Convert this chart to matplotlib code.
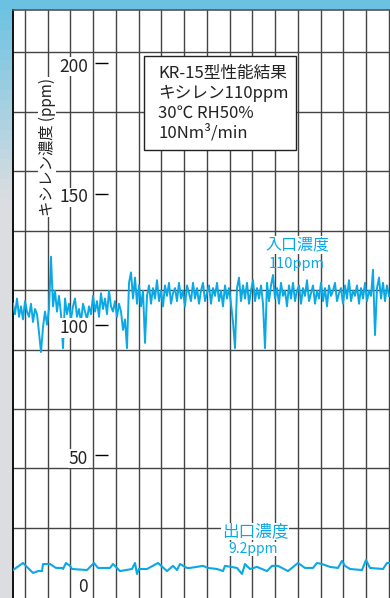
import numpy as np
import matplotlib
matplotlib.use("Agg")
from matplotlib import pyplot as plt
from matplotlib.patches import Rectangle

plt.rcParams['font.family'] = ['Noto Sans CJK JP', 'DejaVu Sans']

# 入口濃度 (ppm), one reading every time step
inlet = [108, 104, 110, 103, 107, 102, 109, 105, 103, 108, 101, 106, 104,
         97, 89.5, 99, 105, 100, 106,
         126,
         107, 113, 105, 111, 104,
         91,
         110, 104, 108, 102, 107, 110, 103, 106, 101, 108,
         105, 102, 107, 104, 111, 105, 109, 103, 112, 106,
         110, 104, 113, 107, 105, 109, 103, 108, 105,
         98, 102, 91,
         116, 120, 110, 118, 108, 115, 107, 113,
         93,
         111, 115, 108, 114, 110, 117, 109, 113, 107, 115,
         111, 116, 108, 112, 114, 109, 116, 110, 113, 107,
         115, 112, 109, 116, 110, 114, 108, 113, 116, 109,
         112, 115, 108, 114, 111, 116, 109, 113, 107, 115,
         110, 114, 108,
         101, 91,
         114, 118, 109, 115, 110, 116, 108, 113, 117, 109, 114, 110, 115, 108,
         91,
         116, 109, 115, 119, 110, 114, 108, 116, 111, 113,
         107, 115, 110, 116, 109, 113, 115, 108, 114, 111,
         117, 109, 112, 115, 108, 113, 110, 116, 109, 114,
         107, 115, 111, 113, 116, 109, 112, 114, 108, 115,
         110, 117, 109, 113, 111, 115, 108, 114, 110, 116,
         109, 113, 111,
         121, 96,
         114, 118, 110, 116, 109, 115, 111]

# 出口濃度 (ppm)
outlet_t = [0, 5, 10, 12.5, 14.5, 15, 18.5, 21.5, 24.5, 25, 26.5, 28.5, 29.5,
            37, 40.5, 42.5, 48.5, 50, 53.5, 59.5, 61, 62, 63, 67, 72.5, 77, 80,
            82, 83.5, 87, 88.5, 95, 97.5, 102, 105, 106, 112, 114.5, 116, 118.5,
            122, 127, 129.5, 132.5, 137.5, 142.5, 146, 150, 152, 154.5, 158.5,
            162.5, 164.5, 166, 168.5, 174.5, 176.5, 178.5, 185, 187, 188.5]
outlet = [6.1, 8.8, 5.0, 5.7, 5.7, 8.4, 8.4, 6.9, 6.9, 6.5, 8.8, 7.7, 6.5,
          6.1, 8.8, 6.9, 6.9, 8.4, 5.7, 6.5, 8.8, 4.6, 6.5, 6.5, 8.8, 5.7, 7.7,
          6.1, 8.4, 6.9, 6.9, 7.7, 6.9, 6.5, 5.7, 7.7, 6.9, 4.6, 8.4, 6.5,
          7.3, 5.7, 7.7, 7.7, 5.7, 8.8, 6.9, 6.9, 8.8, 8.4, 7.3,
          6.9, 9.6, 7.7, 6.5, 6.1, 9.9, 6.9, 6.5, 8.8, 8.8]

yticks = [50, 100, 150, 200]
tick_labels = ["0", "50", "100", "150", "200"]
info_lines = ["KR-15型性能結果", "キシレン110ppm", "30℃ RH50%", "10Nm³/min"]

blue = "#0aa9e6"

fig = plt.figure(figsize=(3.9, 5.98), dpi=100)

# photo-like background behind the chart paper
bg = fig.add_axes([0, 0, 1, 1])
top_col = np.array([0.42, 0.76, 0.89])
bot_col = np.array([0.86, 0.87, 0.88])
rows = np.linspace(0, 1, 60)[:, None]
grad = top_col + (bot_col - top_col) * np.clip(rows * 3.0, 0, 1)
img = np.repeat(grad[:, None, :], 2, axis=1)
bg.imshow(img, aspect='auto', extent=[0, 1, 0, 1])
bg.axis('off')

ax = fig.add_axes([13 / 390, 0, 1 - 13 / 390, 588 / 598])
ax.set_facecolor('white')
ax.set_xlim(0, 188.5)
ax.set_ylim(-4.6, 220.4)

# chart paper grid
for gx in np.arange(6, 189, 11.37):
    ax.axvline(gx, color='#444444', lw=1.0, zorder=1)
for gy in np.arange(22.2, 215, 22.76):
    ax.axhline(gy, color='#444444', lw=1.0, zorder=1)

ax.plot(np.arange(len(inlet)), inlet, color=blue, lw=1.4, zorder=3)
ax.plot(outlet_t, outlet, color=blue, lw=1.5, zorder=3)

# axis ticks drawn on the paper
ax.hlines(yticks, 41, 47.5, color='black', lw=1.0, zorder=4)
for v, lab in zip([1.0] + yticks, tick_labels):
    ax.text(37.5, v - 1.3, lab, ha='right', va='center', fontsize=12.5,
            color='#222222', zorder=5,
            bbox=dict(facecolor='white', edgecolor='none', pad=0.5))

ax.text(17, 168, "キシレン濃度 (ppm)", rotation=90, ha='center', va='center',
        fontsize=11, color='#222222', zorder=5,
        bbox=dict(facecolor='white', edgecolor='none', pad=0.5))

# condition box
ax.add_patch(Rectangle((65.5, 166.8), 76, 36, facecolor='white',
                       edgecolor='#222222', lw=1.0, zorder=5))
for i, line in enumerate(info_lines):
    ax.text(72.5, 196.2 - 7.65 * i, line, ha='left', va='center',
            fontsize=12, color='#222222', zorder=6)

ax.text(142, 130.5, "入口濃度", ha='center', va='center', fontsize=11.5,
        color=blue, zorder=5,
        bbox=dict(facecolor='white', edgecolor='none', pad=0.3))
ax.text(142, 123.2, "110ppm", ha='center', va='center', fontsize=10.5,
        color=blue, zorder=5)
ax.text(121, 20.8, "出口濃度", ha='center', va='center', fontsize=12,
        color=blue, zorder=5,
        bbox=dict(facecolor='white', edgecolor='none', pad=0.3))
ax.text(120, 14.2, "9.2ppm", ha='center', va='center', fontsize=10,
        color=blue, zorder=5,
        bbox=dict(facecolor='white', edgecolor='none', pad=0.2))

ax.set_xticks([])
ax.set_yticks([])
ax.spines['right'].set_visible(False)
ax.spines['bottom'].set_visible(False)
ax.spines['left'].set_color('#111111')
ax.spines['left'].set_linewidth(1.4)
ax.spines['top'].set_color('#555555')
ax.spines['top'].set_linewidth(1.2)

plt.savefig("out.png", dpi=100)
plt.close()
